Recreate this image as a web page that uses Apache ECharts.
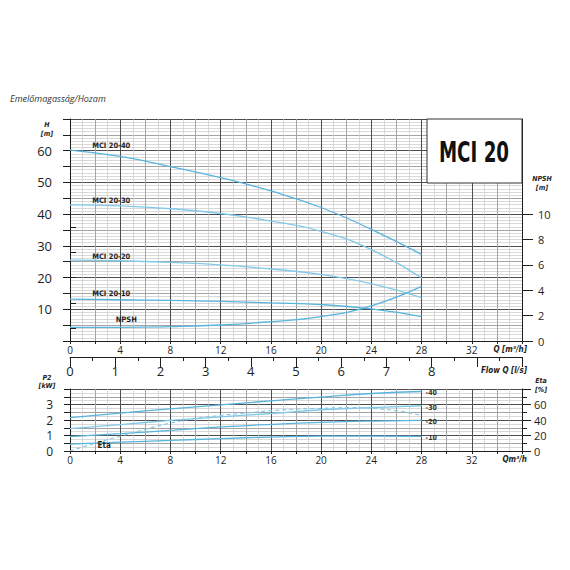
<!DOCTYPE html>
<html><head><meta charset="utf-8">
<script src="https://cdn.jsdelivr.net/npm/echarts@6.0.0/dist/echarts.min.js"></script>
<style>html,body{margin:0;padding:0;background:#fff}#c{width:570px;height:570px}</style>
</head><body><div id="c"></div>
<script>
// ---------- data ----------
const qPts = [0, 4, 8, 12, 16, 20, 24, 28];               // Q [m3/h]
const head2040 = [60.2, 58.2, 55.0, 51.5, 47.3, 42.1, 35.2, 27.3];
const head2030 = [42.9, 42.6, 41.7, 40.2, 37.8, 34.6, 28.8, 19.9];
const head2020 = [25.5, 25.3, 24.8, 24.0, 22.7, 21.0, 18.1, 13.7];
const head2010 = [13.2, 13.0, 12.8, 12.5, 12.0, 11.5, 10.1, 7.7];
const npshVals = [1.08, 1.08, 1.13, 1.26, 1.53, 1.92, 2.77, 4.3];
const p2040 = [2.15, 2.45, 2.72, 2.98, 3.23, 3.48, 3.71, 3.84];
const p2030 = [1.44, 1.70, 1.97, 2.20, 2.42, 2.66, 2.80, 2.92];
const p2020 = [0.93, 1.12, 1.33, 1.55, 1.72, 1.85, 1.93, 1.97];
const p2010 = [0.45, 0.57, 0.68, 0.80, 0.90, 0.96, 0.96, 0.95];
const qEta = [0, 2, 4, 6, 8, 10, 12, 14, 16, 18, 20, 22, 24, 26, 28];
const etaVals = [0, 10, 19, 28, 36, 42, 46, 49, 52, 54, 55, 56, 55, 52, 46];
const curveNames = ['MCI 20-40', 'MCI 20-30', 'MCI 20-20', 'MCI 20-10'];
const p2EndLabels = ['40', '30', '20', '10'];
const qTickLabels = [0, 4, 8, 12, 16, 20, 24, 28, 32];
const qTicks = [0, 2, 4, 6, 8, 10, 12, 14, 16, 18, 20, 22, 24, 26, 28, 30, 32, 34, 36];
const flowTickLabels = [0, 1, 2, 3, 4, 5, 6, 7, 8];
const hTickLabels = [10, 20, 30, 40, 50, 60];
const hTicks = [0, 5, 10, 15, 20, 25, 30, 35, 40, 45, 50, 55, 60, 65, 70];
const npshTickLabels = [0, 2, 4, 6, 8, 10];
const npshMinorTicks = [1, 3, 5, 7, 9];
const p2TickLabels = [0, 1, 2, 3];
const p2Ticks = [0, 0.5, 1, 1.5, 2, 2.5, 3, 3.5, 4];
const etaTickLabels = [0, 20, 40, 60];

// ---------- style ----------
const FONT = '"Open Sans","Noto Sans",sans-serif';
const NARROW = '"Liberation Sans Narrow","DejaVu Sans Condensed","Arial Narrow",sans-serif';
const TXT = '#1e1e1e';
const MAJOR = { color: '#4d4d4d', width: 1 };
const MINOR = { color: '#c9c9c9', width: 0.7 };
const BLUE = '#58b5de';
const BLUE2 = '#80c9e9';

function pts(xs, ys, labelIdx, label) {
  return xs.map((x, i) => i === labelIdx ? { value: [x, ys[i]], label: Object.assign({ show: true }, label) } : [x, ys[i]]);
}
const curveLabel = (txt, dx, dy) => ({
  formatter: txt, position: 'top', distance: 0, offset: [dx, dy],
  fontSize: 7.5, fontWeight: 'bold', fontFamily: NARROW, color: TXT
});
function lineSeries(name, data, xi, yi, color, extra) {
  return Object.assign({
    name, type: 'line', data, xAxisIndex: xi, yAxisIndex: yi,
    smooth: 0.5, symbol: 'circle', symbolSize: 1, showSymbol: true,
    itemStyle: { color: 'rgba(0,0,0,0)' },
    lineStyle: { color: color, width: 1.3 },
    label: { show: false }, emphasis: { disabled: true }, silent: true
  }, extra || {});
}

const headSets = [head2040, head2030, head2020, head2010];
const headLabelDy = [-6, -1, 0, -2];
const headColors = [BLUE, BLUE2, BLUE2, BLUE];
const p2Sets = [p2040, p2030, p2020, p2010];

const series = [];
headSets.forEach((h, k) => {
  series.push(lineSeries(curveNames[k], pts(qPts, h, 1, curveLabel(curveNames[k], -9, headLabelDy[k])), 0, 0, headColors[k]));
});
series.push(lineSeries('NPSH', pts(qPts, npshVals, 1, curveLabel('NPSH', 6, -3)), 0, 1, BLUE));
p2Sets.forEach((p, k) => {
  series.push(lineSeries('P2 ' + curveNames[k], pts(qPts, p, -1, {}), 2, 3, k === 1 ? BLUE2 : BLUE, {
    endLabel: { show: true, formatter: '-' + p2EndLabels[k], fontSize: 7, fontWeight: 'bold', fontFamily: NARROW, color: '#333', distance: 4, offset: [0, 2] }
  }));
});
series.push(lineSeries('Eta', pts(qEta, etaVals, 1, {
  formatter: 'Eta', position: 'right', distance: 2, offset: [0, 2], fontSize: 8, fontWeight: 'bold', fontFamily: NARROW, color: TXT
}), 2, 4, BLUE2, { lineStyle: { color: BLUE2, width: 1.1, type: [4, 3] } }));

const axisNameStyle = { align: 'right', verticalAlign: 'top', fontSize: 8, fontStyle: 'italic', fontWeight: 'bold', fontFamily: NARROW, color: TXT };

const option = {
  animation: false,
  backgroundColor: '#fff',
  grid: [
    { left: 70, right: 48, top: 119, height: 222, containLabel: false },
    { left: 70, right: 48, top: 389, height: 62, containLabel: false }
  ],
  xAxis: [
    {
      type: 'value', gridIndex: 0, position: 'bottom', min: 0, max: 36, interval: 4,
      axisLine: { show: true, onZero: false, lineStyle: { color: TXT, width: 1 } },
      axisTick: { show: true, customValues: qTicks, length: 3, lineStyle: { color: TXT } },
      axisLabel: { customValues: qTickLabels, fontSize: 10, margin: 4, color: TXT, fontFamily: FONT },
      splitLine: { show: true, lineStyle: MAJOR },
      minorTick: { show: false, splitNumber: 4 },
      minorSplitLine: { show: true, lineStyle: MINOR },
      name: 'Q [m³/h]', nameLocation: 'end', nameGap: 5, nameMoveOverlap: false,
      nameTextStyle: Object.assign({}, axisNameStyle, { padding: [4, 0, 0, 0] })
    },
    {
      type: 'value', gridIndex: 0, position: 'bottom', offset: 16, min: 0, max: 10, interval: 1,
      axisLine: { show: true, onZero: false, lineStyle: { color: TXT, width: 1 } },
      axisTick: { show: true, length: 10, lineStyle: { color: TXT } },
      minorTick: { show: true, splitNumber: 2, length: 4, lineStyle: { color: TXT } },
      axisLabel: { customValues: flowTickLabels, fontSize: 13, margin: 7, color: TXT, fontFamily: FONT },
      splitLine: { show: false },
      name: 'Flow Q [l/s]', nameLocation: 'end', nameGap: 5, nameMoveOverlap: false,
      nameTextStyle: Object.assign({}, axisNameStyle, { padding: [9, 0, 0, 0] })
    },
    {
      type: 'value', gridIndex: 1, position: 'bottom', min: 0, max: 36, interval: 4,
      axisLine: { show: true, onZero: false, lineStyle: { color: TXT, width: 1 } },
      axisTick: { show: true, customValues: qTicks, length: 3, lineStyle: { color: TXT } },
      axisLabel: { customValues: qTickLabels, fontSize: 10, margin: 4, color: TXT, fontFamily: FONT },
      splitLine: { show: true, lineStyle: MAJOR },
      minorTick: { show: false, splitNumber: 4 },
      minorSplitLine: { show: true, lineStyle: MINOR },
      name: 'Qm³/h', nameLocation: 'end', nameGap: 5, nameMoveOverlap: false,
      nameTextStyle: Object.assign({}, axisNameStyle, { padding: [4, 0, 0, 0] })
    }
  ],
  yAxis: [
    {
      type: 'value', gridIndex: 0, position: 'left', min: 0, max: 70, interval: 10,
      axisLine: { show: true, onZero: false, lineStyle: { color: TXT, width: 1 } },
      axisTick: { show: true, customValues: hTicks, length: 7, lineStyle: { color: TXT } },
      axisLabel: { customValues: hTickLabels, fontSize: 13, margin: 18, color: TXT, fontFamily: FONT },
      splitLine: { show: true, lineStyle: MAJOR },
      minorTick: { show: false, splitNumber: 10 },
      minorSplitLine: { show: true, lineStyle: MINOR }
    },
    {
      type: 'value', gridIndex: 0, position: 'right', min: 0, max: 17.5, interval: 2,
      axisLine: { show: true, onZero: false, lineStyle: { color: TXT, width: 1 } },
      axisTick: { show: true, customValues: npshTickLabels, length: 11, lineStyle: { color: TXT } },
      axisLabel: { customValues: npshTickLabels, fontSize: 11, margin: 16, color: TXT, fontFamily: FONT },
      splitLine: { show: false }
    },
    {
      type: 'value', gridIndex: 0, position: 'right', min: 0, max: 17.5, interval: 2,
      axisLine: { show: false },
      axisTick: { show: true, customValues: npshMinorTicks, length: 6, lineStyle: { color: TXT } },
      axisLabel: { show: false },
      splitLine: { show: false }
    },
    {
      type: 'value', gridIndex: 1, position: 'left', min: 0, max: 4, interval: 1,
      axisLine: { show: true, onZero: false, lineStyle: { color: TXT, width: 1 } },
      axisTick: { show: true, customValues: p2Ticks, length: 6, lineStyle: { color: TXT } },
      axisLabel: { customValues: p2TickLabels, fontSize: 12, lineHeight: 12, margin: 17, color: TXT, fontFamily: FONT },
      splitLine: { show: true, lineStyle: MAJOR },
      minorTick: { show: false, splitNumber: 4 },
      minorSplitLine: { show: true, lineStyle: MINOR }
    },
    {
      type: 'value', gridIndex: 1, position: 'right', min: 0, max: 80, interval: 20,
      axisLine: { show: true, onZero: false, lineStyle: { color: TXT, width: 1 } },
      axisTick: { show: true, length: 9, lineStyle: { color: TXT } },
      minorTick: { show: true, splitNumber: 2, length: 5, lineStyle: { color: TXT } },
      axisLabel: { customValues: etaTickLabels, fontSize: 11, lineHeight: 12, margin: 12, color: TXT, fontFamily: FONT },
      splitLine: { show: false }
    }
  ],
  graphic: [
    { type: 'text', left: 10, top: 94, style: { text: 'Emelőmagasság/Hozam', font: 'italic 9px ' + FONT, fill: '#333' } },
    { type: 'text', x: 47, y: 120, style: { text: 'H\n[m]', align: 'center', lineHeight: 9, font: 'italic bold 7px ' + NARROW, fill: TXT } },
    { type: 'text', x: 542, y: 174, style: { text: 'NPSH\n[m]', align: 'center', lineHeight: 9, font: 'italic bold 7px ' + NARROW, fill: TXT } },
    { type: 'text', x: 47, y: 374, style: { text: 'P2\n[kW]', align: 'center', lineHeight: 8, font: 'italic bold 7px ' + NARROW, fill: TXT } },
    { type: 'text', x: 541, y: 376, style: { text: 'Eta\n[%]', align: 'center', lineHeight: 9, font: 'italic bold 7px ' + NARROW, fill: TXT } },
    { type: 'rect', z: 100, shape: { x: 427, y: 119, width: 95, height: 64 }, style: { fill: '#fff', stroke: '#333', lineWidth: 1 } },
    { type: 'text', z: 101, x: 474, y: 152, scaleX: 0.7, style: { text: 'MCI 20', align: 'center', verticalAlign: 'middle', font: 'bold 29px ' + NARROW, fill: '#111' } }
  ],
  series
};

const chart = echarts.init(document.getElementById('c'), null, { renderer: 'svg' });
chart.setOption(option);
</script>
</body></html>
